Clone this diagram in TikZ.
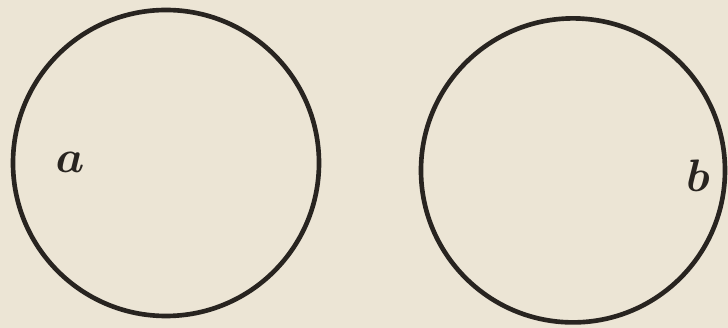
\documentclass[tikz,border=0pt]{standalone}
\usepackage{amsmath, amssymb}
\usepackage{xcolor}
\usepackage{tikz}

\definecolor{paper}{RGB}{236,229,213}
\definecolor{ink}{RGB}{40,36,32}

\begin{document}
\begin{tikzpicture}[every node/.style={font=\Huge, text=ink},
  setring/.style={draw=ink, line width=3.3pt, circle, inner sep=0pt}]
  \fill[paper] (0,0) rectangle (18.2,8.2);
  \useasboundingbox (0,0) rectangle (18.2,8.2);
  \node[setring, minimum size=7.65cm] (setA) at (4.15,4.125) {};
  \node[setring, minimum size=7.60cm] (setB) at (14.325,3.94) {};
  \node[scale=1.3] (lblA) at (1.75,4.15) {$\boldsymbol{a}$};
  \node[scale=1.3] (lblB) at (17.45,3.8) {$\boldsymbol{b}$};
\end{tikzpicture}
\end{document}
